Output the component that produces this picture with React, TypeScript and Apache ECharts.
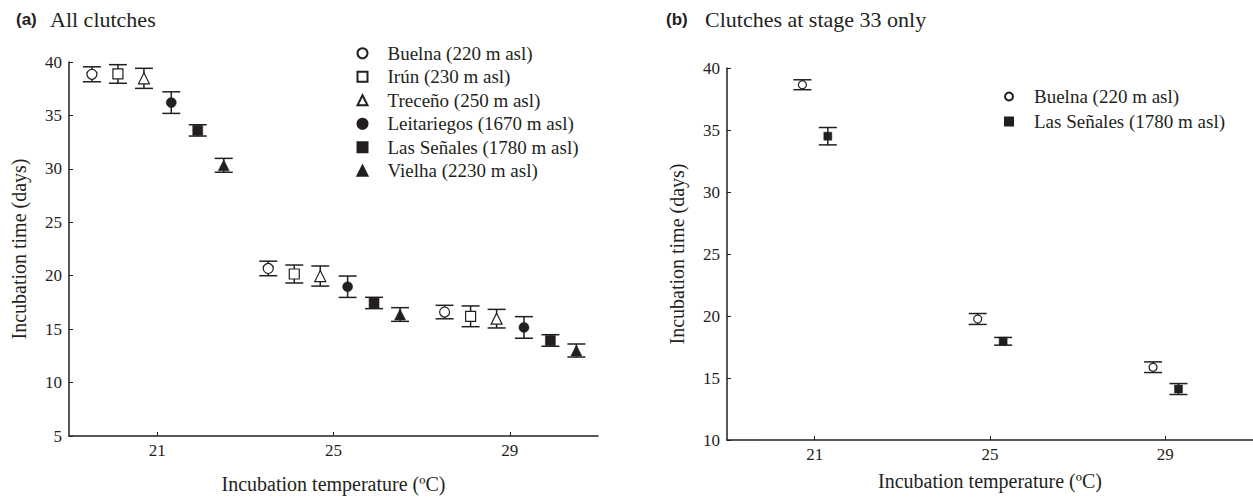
import React, { useEffect, useRef } from "react";
import * as echarts from "echarts";

// ---------- Data ----------
const temperatures = [21, 25, 29];
const xTickValues = [21, 25, 29];
const yTicksA = { min: 5, max: 40, step: 5 };
const yTicksB = { min: 10, max: 40, step: 5 };

const sitesA = [
  "Buelna (220 m asl)",
  "Irún (230 m asl)",
  "Treceño (250 m asl)",
  "Leitariegos (1670 m asl)",
  "Las Señales (1780 m asl)",
  "Vielha (2230 m asl)",
];
// dodge offsets (°C) of each site around its incubation temperature
const dodgeA = [-1.48, -0.89, -0.3, 0.32, 0.92, 1.51];

const buelnaA = [38.85, 20.68, 16.6];
const buelnaAErr = [0.7, 0.68, 0.63];
const irunA = [38.88, 20.16, 16.2];
const irunAErr = [0.87, 0.84, 0.97];
const trecenoA = [38.47, 19.97, 15.98];
const trecenoAErr = [0.94, 0.94, 0.87];
const leitariegosA = [36.2, 18.97, 15.16];
const leitariegosAErr = [1.01, 1.0, 1.01];
const senalesA = [33.6, 17.45, 13.94];
const senalesAErr = [0.53, 0.53, 0.54];
const vielhaA = [30.33, 16.37, 13.0];
const vielhaAErr = [0.65, 0.64, 0.61];

const sitesB = ["Buelna (220 m asl)", "Las Señales (1780 m asl)"];
const dodgeB = [-0.28, 0.3];
const buelnaB = [38.65, 19.76, 15.87];
const buelnaBErr = [0.4, 0.44, 0.43];
const senalesB = [34.5, 17.96, 14.11];
const senalesBErr = [0.7, 0.31, 0.44];

// ---------- Styles ----------
const INK = "#231f20";
const SERIF = "'Liberation Serif', 'Times New Roman', serif";
const SANS = "'Liberation Sans', Arial, sans-serif";

const symbolsA = ["circle", "rect", "triangle", "circle", "rect", "triangle"];
const openA = [true, true, true, false, false, false];
const symbolsB = ["circle", "rect"];
const openB = [true, false];

const meansA = [buelnaA, irunA, trecenoA, leitariegosA, senalesA, vielhaA];
const errsA = [buelnaAErr, irunAErr, trecenoAErr, leitariegosAErr, senalesAErr, vielhaAErr];
const meansB = [buelnaB, senalesB];
const errsB = [buelnaBErr, senalesBErr];

function errorSeries(gridIdx: number, means: number[], errs: number[], dodge: number, capHalf: number) {
  const data = temperatures.map((t, i) => [t + dodge, means[i] - errs[i], means[i] + errs[i]]);
  return {
    type: "custom",
    xAxisIndex: gridIdx,
    yAxisIndex: gridIdx,
    z: 2,
    silent: true,
    data,
    encode: { x: 0, y: [1, 2] },
    renderItem: (_p: any, api: any) => {
      const x = api.value(0);
      const lo = api.coord([x, api.value(1)]);
      const hi = api.coord([x, api.value(2)]);
      const style = { stroke: INK, lineWidth: 1.5 };
      return {
        type: "group",
        children: [
          { type: "line", shape: { x1: lo[0], y1: lo[1], x2: hi[0], y2: hi[1] }, style },
          { type: "line", shape: { x1: lo[0] - capHalf, y1: lo[1], x2: lo[0] + capHalf, y2: lo[1] }, style },
          { type: "line", shape: { x1: hi[0] - capHalf, y1: hi[1], x2: hi[0] + capHalf, y2: hi[1] }, style },
        ],
      };
    },
  };
}

function pointSeries(gridIdx: number, name: string, means: number[], dodge: number, symbol: string, open: boolean, size: number) {
  return {
    type: "scatter",
    name,
    xAxisIndex: gridIdx,
    yAxisIndex: gridIdx,
    z: 5,
    symbol,
    symbolSize: symbol === "triangle" ? size + 1 : size,
    data: temperatures.map((t, i) => [t + dodge, means[i]]),
    itemStyle: open
      ? { color: "#ffffff", borderColor: INK, borderWidth: 1.2, opacity: 1 }
      : { color: INK, borderColor: INK, borderWidth: 0.5, opacity: 1 },
    emphasis: { disabled: true },
  };
}

function xAxis(gridIdx: number, gap: number) {
  return {
    type: "value",
    gridIndex: gridIdx,
    min: 19,
    max: 31,
    name: "Incubation temperature (ºC)",
    nameLocation: "middle",
    nameGap: gap,
    nameTextStyle: { fontFamily: SERIF, fontSize: 20, color: INK },
    axisLine: { show: true, onZero: false, lineStyle: { color: INK, width: 1.5 } },
    axisTick: { show: true, inside: true, length: 4, customValues: xTickValues, lineStyle: { color: INK } },
    axisLabel: { customValues: xTickValues, fontFamily: SERIF, fontSize: 17, color: INK, margin: 6 },
    splitLine: { show: false },
  };
}

function yAxis(gridIdx: number, t: { min: number; max: number; step: number }) {
  return {
    type: "value",
    gridIndex: gridIdx,
    min: t.min,
    max: t.max,
    interval: t.step,
    name: "Incubation time (days)",
    nameLocation: "middle",
    nameGap: 40,
    nameRotate: 90,
    nameTextStyle: { fontFamily: SERIF, fontSize: 20, color: INK },
    axisLine: { show: true, onZero: false, lineStyle: { color: INK, width: 1.5 } },
    axisTick: { show: true, inside: true, length: 4, lineStyle: { color: INK } },
    axisLabel: { fontFamily: SERIF, fontSize: 17, color: INK, margin: 7 },
    splitLine: { show: false },
  };
}

export default function App() {
  const ref = useRef<HTMLDivElement>(null);
  useEffect(() => {
    if (!ref.current) return;
    document.documentElement.style.overflow = "hidden";
    document.body.style.overflow = "hidden";
    const chart = echarts.init(ref.current, null, { renderer: "svg" });
    const series: any[] = [];
    sitesA.forEach((s, k) => series.push(errorSeries(0, meansA[k], errsA[k], dodgeA[k], 9)));
    sitesA.forEach((s, k) => series.push(pointSeries(0, s, meansA[k], dodgeA[k], symbolsA[k], openA[k], 10)));
    sitesB.forEach((s, k) => series.push(errorSeries(1, meansB[k], errsB[k], dodgeB[k], 9)));
    sitesB.forEach((s, k) => series.push(pointSeries(1, s, meansB[k], dodgeB[k], symbolsB[k], openB[k], 8)));

    chart.setOption({
      animation: false,
      backgroundColor: "#ffffff",
      grid: [
        { left: 69, top: 62, width: 529, height: 374, outerBoundsMode: "none", containLabel: false },
        { left: 727, top: 68, width: 526, height: 372, outerBoundsMode: "none", containLabel: false },
      ],
      xAxis: [xAxis(0, 38), xAxis(1, 31)],
      yAxis: [yAxis(0, yTicksA), yAxis(1, yTicksB)],
      legend: [
        {
          data: sitesA,
          orient: "vertical",
          left: 356.5,
          top: 41.5,
          padding: 0,
          itemWidth: 10,
          itemHeight: 10,
          itemGap: 0,
          selectedMode: false,
          textStyle: { fontFamily: SERIF, fontSize: 19, color: INK, lineHeight: 23.5, padding: [0, 0, 0, 15] },
        },
        {
          data: sitesB,
          orient: "vertical",
          left: 1004,
          top: 84,
          padding: 0,
          itemWidth: 8,
          itemHeight: 8,
          itemGap: 0,
          selectedMode: false,
          textStyle: { fontFamily: SERIF, fontSize: 19, color: INK, lineHeight: 25, padding: [0, 0, 0, 16] },
        },
      ],
      graphic: [
        { type: "text", left: 16, top: 11, style: { text: "(a)", fontFamily: SANS, fontWeight: "bold", fontSize: 17, fill: INK } },
        { type: "text", left: 50, top: 8, style: { text: "All clutches", fontFamily: SERIF, fontSize: 22, fill: INK } },
        { type: "text", left: 666, top: 11, style: { text: "(b)", fontFamily: SANS, fontWeight: "bold", fontSize: 17, fill: INK } },
        { type: "text", left: 705, top: 8, style: { text: "Clutches at stage 33 only", fontFamily: SERIF, fontSize: 22, fill: INK } },
      ],
      series,
    });
    return () => chart.dispose();
  }, []);
  return <div ref={ref} style={{ position: "absolute", left: 0, top: 0, width: 1253, height: 497 }} />;
}
